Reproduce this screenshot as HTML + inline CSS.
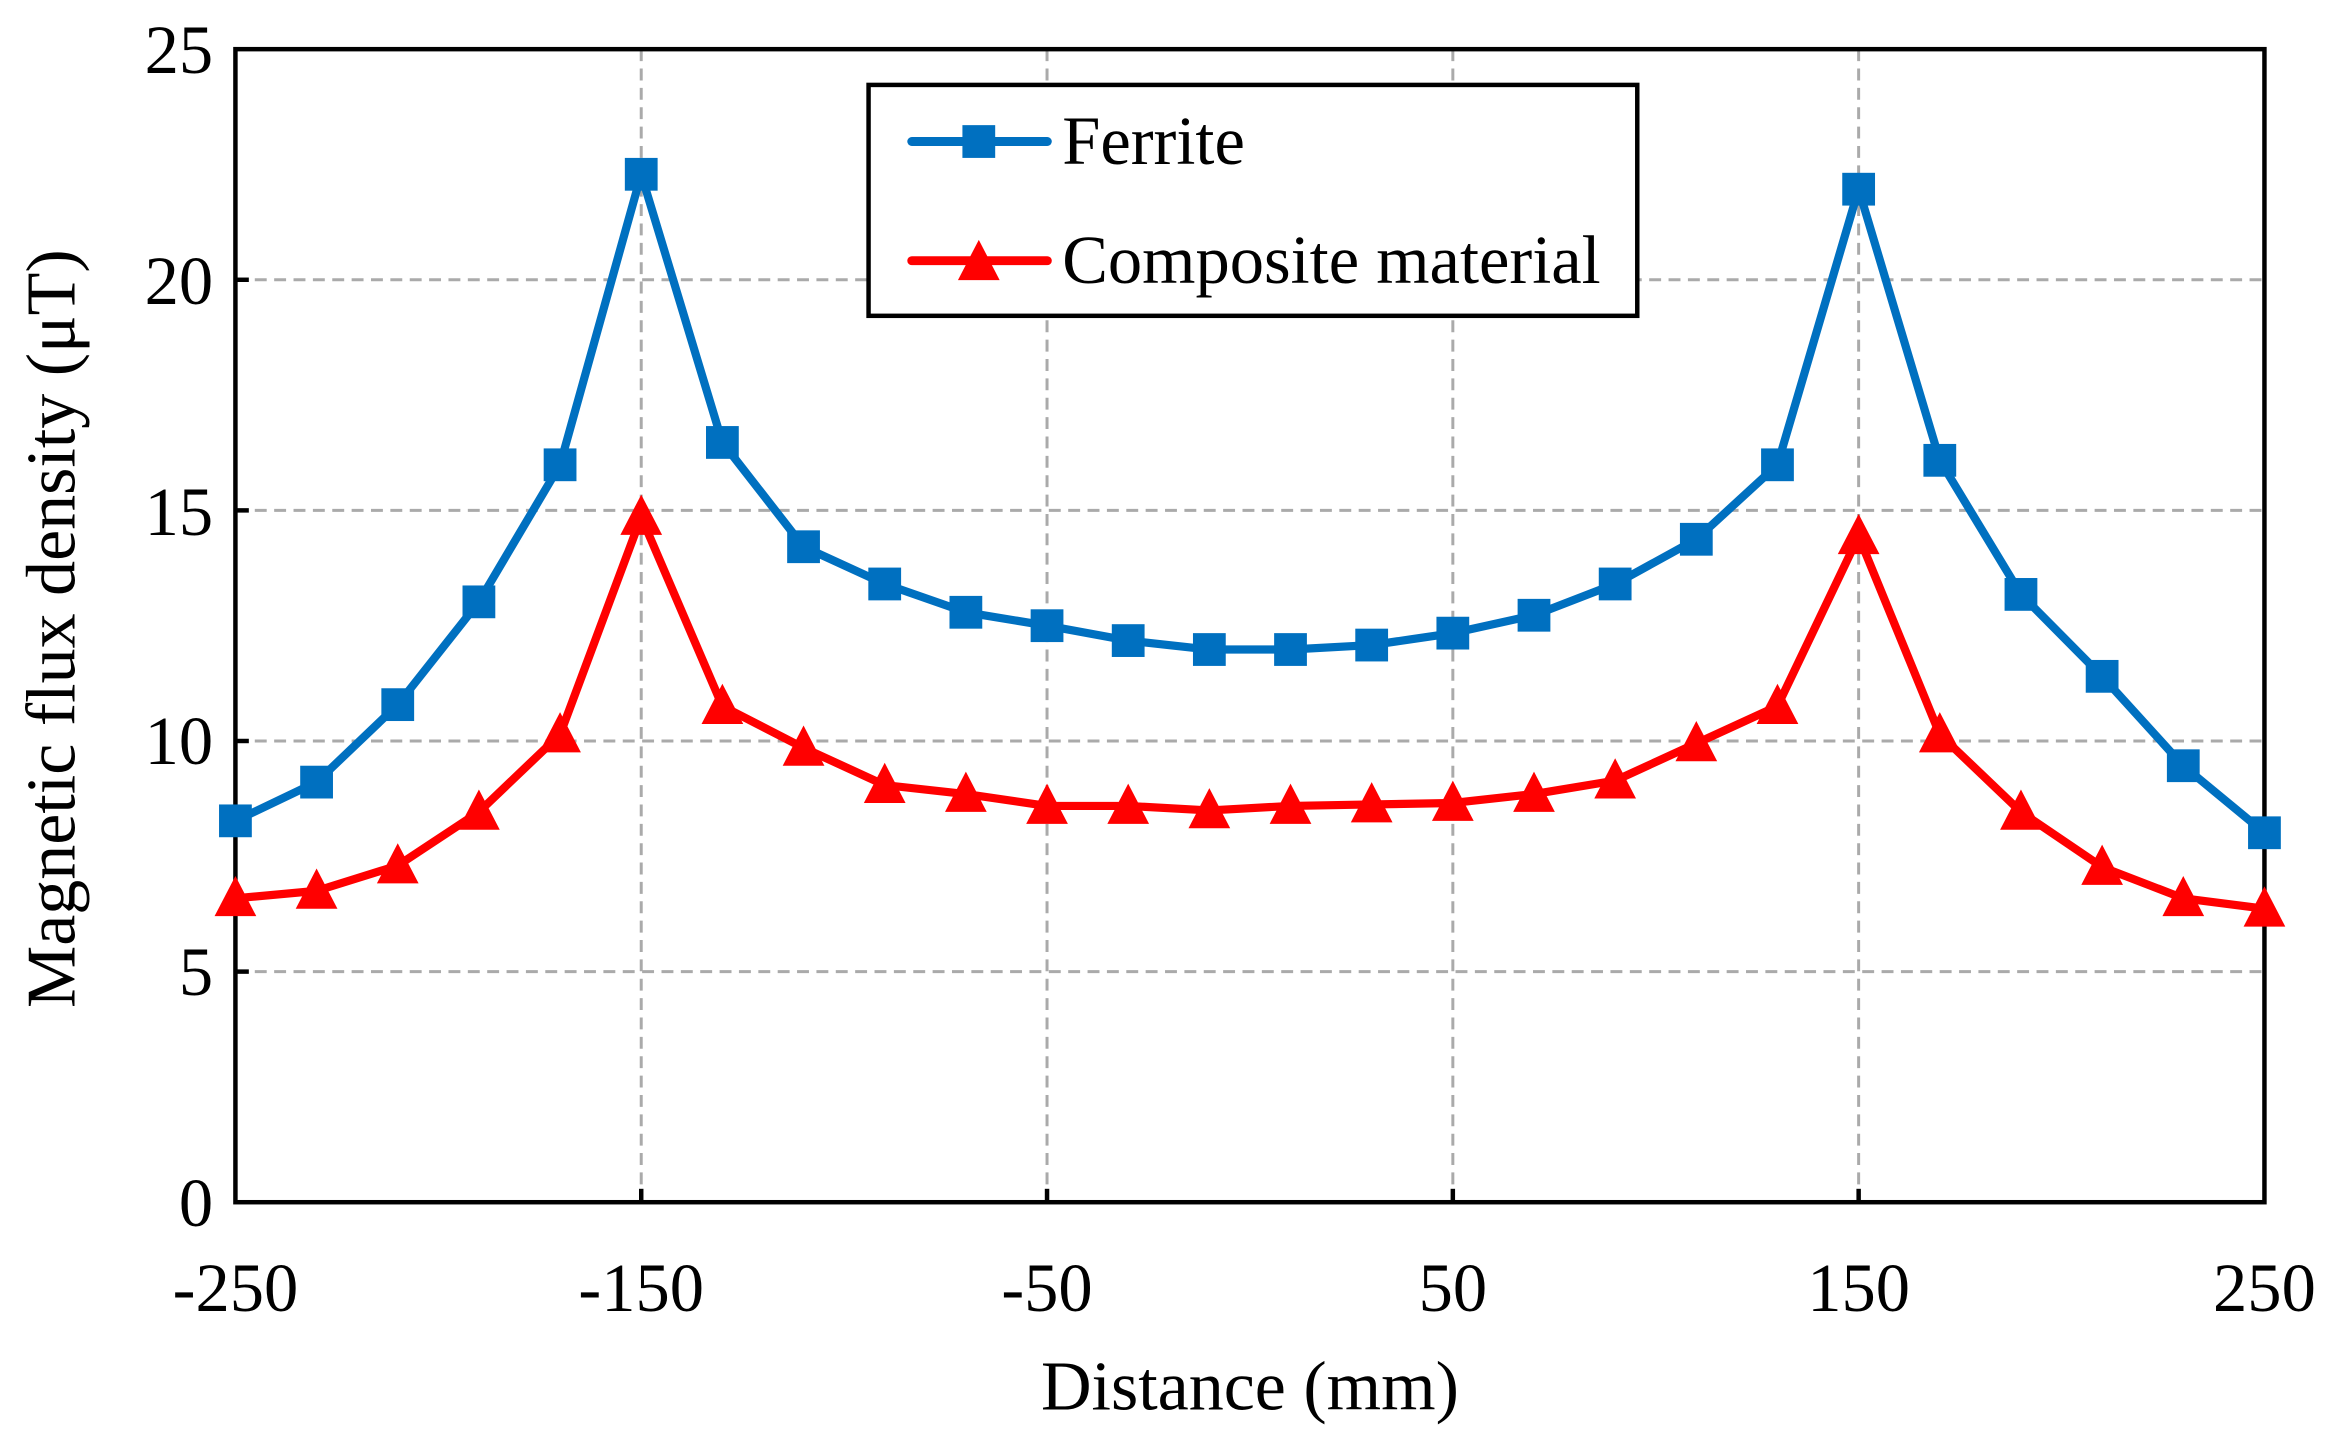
<!DOCTYPE html>
<html><head><meta charset="utf-8"><style>
html,body{margin:0;padding:0;background:#fff;}
svg{display:block;}
text{font-family:"Liberation Serif",serif;fill:#000;}
</style></head><body>
<svg id="s" width="2336" height="1444" viewBox="0 0 1568 969.3" xmlns="http://www.w3.org/2000/svg">
<g stroke="#aaaaaa" stroke-width="2" stroke-dasharray="8,5">
<line x1="158" y1="652.2" x2="1520" y2="652.2"/>
<line x1="158" y1="497.4" x2="1520" y2="497.4"/>
<line x1="158" y1="342.6" x2="1520" y2="342.6"/>
<line x1="158" y1="187.8" x2="1520" y2="187.8"/>
<line x1="430.4" y1="33" x2="430.4" y2="807"/>
<line x1="702.8" y1="33" x2="702.8" y2="807"/>
<line x1="975.2" y1="33" x2="975.2" y2="807"/>
<line x1="1247.6" y1="33" x2="1247.6" y2="807"/>
</g>
<g stroke="#000" stroke-width="3">
<line x1="158" y1="652.2" x2="167" y2="652.2"/>
<line x1="158" y1="497.4" x2="167" y2="497.4"/>
<line x1="158" y1="342.6" x2="167" y2="342.6"/>
<line x1="158" y1="187.8" x2="167" y2="187.8"/>
<line x1="430.4" y1="807" x2="430.4" y2="798"/>
<line x1="702.8" y1="807" x2="702.8" y2="798"/>
<line x1="975.2" y1="807" x2="975.2" y2="798"/>
<line x1="1247.6" y1="807" x2="1247.6" y2="798"/>
</g>
<rect x="158" y="33" width="1362" height="774" fill="none" stroke="#000" stroke-width="3"/>
<g id="series"></g>
<g font-size="46" text-anchor="end">
<text x="143" y="823">0</text>
<text x="143" y="668">5</text>
<text x="143" y="513">10</text>
<text x="143" y="359">15</text>
<text x="143" y="204">20</text>
<text x="143" y="49">25</text>
</g>
<g font-size="46" text-anchor="middle">
<text x="158" y="880">-250</text>
<text x="430.4" y="880">-150</text>
<text x="702.8" y="880">-50</text>
<text x="975.2" y="880">50</text>
<text x="1247.6" y="880">150</text>
<text x="1520" y="880">250</text>
<text x="839" y="946" font-size="47">Distance (mm)</text>
<text transform="translate(50,422) rotate(-90)" font-size="47">Magnetic flux density (μT)</text>
</g>
<rect x="583" y="57" width="516" height="155" fill="#fff" stroke="#000" stroke-width="3"/>
<line x1="612" y1="95" x2="703" y2="95" stroke="#0070C0" stroke-width="6" stroke-linecap="round"/>
<rect x="646" y="84" width="22" height="22" fill="#0070C0"/>
<line x1="612" y1="175" x2="703" y2="175" stroke="#FF0000" stroke-width="6" stroke-linecap="round"/>
<polygon points="657,161 643,188 671,188" fill="#FF0000"/>
<text x="713" y="110" font-size="46">Ferrite</text>
<text x="713" y="190" font-size="46">Composite material</text>
</svg>
<script>
var f=[551,525,473,404,312,117,297,367,392,411,420,430,436,436,433,425,413,392,362,312,127,309,399,454,514,559];
var c=[603,598,581,545,493,347,474,502,527,533,541,541,544,541,540,539,533,524,499,474,360,493,545,582,603,610];
var g=document.getElementById('series'),ns='http://www.w3.org/2000/svg';
function X(i){return 158+i*54.48;}
function pl(a,col){var p=document.createElementNS(ns,'polyline');p.setAttribute('points',a.map(function(y,i){return X(i)+','+y}).join(' '));p.setAttribute('fill','none');p.setAttribute('stroke',col);p.setAttribute('stroke-width','5.5');p.setAttribute('stroke-linejoin','round');g.appendChild(p);}
pl(f,'#0070C0');pl(c,'#FF0000');
f.forEach(function(y,i){var r=document.createElementNS(ns,'rect');r.setAttribute('x',X(i)-11);r.setAttribute('y',y-11);r.setAttribute('width',22);r.setAttribute('height',22);r.setAttribute('fill','#0070C0');g.appendChild(r);});
c.forEach(function(y,i){var p=document.createElementNS(ns,'polygon');var x=X(i);p.setAttribute('points',x+','+(y-15)+' '+(x-14)+','+(y+12)+' '+(x+14)+','+(y+12));p.setAttribute('fill','#FF0000');g.appendChild(p);});
</script>
</body></html>
